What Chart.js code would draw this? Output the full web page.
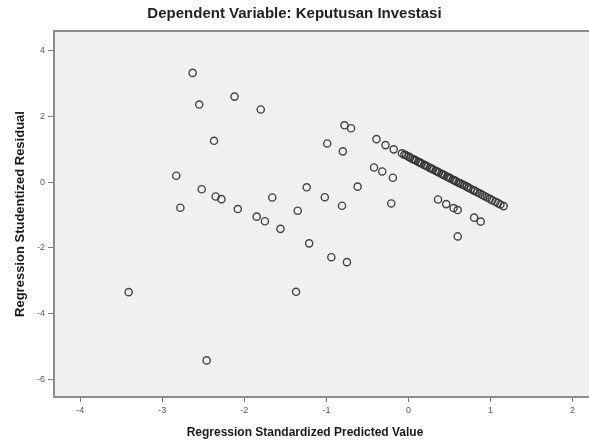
<!DOCTYPE html>
<html>
<head>
<meta charset="utf-8">
<script src="https://cdn.jsdelivr.net/npm/chart.js@4.4.1/dist/chart.umd.min.js"></script>
<style>
  html, body { margin: 0; padding: 0; background: #fff; overflow: hidden; }
  #wrap { width: 589px; height: 441px; }
</style>
</head>
<body>
<div id="wrap"><canvas id="residChart" width="589" height="441"></canvas></div>
<script>
// Regression Standardized Predicted Value (x) vs Studentized Residual (y)
const predicted = [
    -3.41, -2.46, -1.37, -2.63, -2.55, -2.12, -1.80, -2.37, -2.83, -2.78,
    -2.52, -2.35, -2.28, -2.08, -1.85, -1.75, -1.66, -1.56, -1.24, -1.35,
    -1.21, -0.94, -0.75, -1.02, -0.81, -0.99, -0.80, -0.78, -0.70, -0.62,
    -0.42, -0.32, -0.19, -0.21, 0.36, 0.46, 0.55, 0.60, 0.80, 0.88, 0.60,
    // tight diagonal band
    -0.39, -0.28, -0.18, -0.08, -0.05, -0.03, 0.00, 0.02, 0.05, 0.07, 0.09,
    0.12, 0.14, 0.16, 0.19, 0.21, 0.23, 0.26, 0.28, 0.30, 0.33, 0.35, 0.37,
    0.40, 0.42, 0.44, 0.47, 0.49, 0.51, 0.54, 0.56, 0.58, 0.61, 0.63, 0.66,
    0.68, 0.71, 0.73, 0.76, 0.79, 0.81, 0.84, 0.87, 0.90, 0.93, 0.96, 0.99,
    1.02, 1.06, 1.09, 1.12, 1.16
];
const residual = [
    -3.34, -5.41, -3.33, 3.31, 2.35, 2.59, 2.20, 1.25, 0.19, -0.78,
    -0.22, -0.44, -0.52, -0.82, -1.05, -1.19, -0.47, -1.42, -0.16, -0.87,
    -1.86, -2.28, -2.43, -0.46, -0.72, 1.17, 0.93, 1.72, 1.63, -0.14,
    0.44, 0.32, 0.13, -0.65, -0.53, -0.67, -0.79, -0.85, -1.08, -1.20, -1.65,
    1.30, 1.12, 0.99, 0.87, 0.83, 0.81, 0.77, 0.74, 0.70, 0.68, 0.65,
    0.61, 0.59, 0.56, 0.52, 0.50, 0.47, 0.43, 0.41, 0.38, 0.34, 0.32, 0.29,
    0.25, 0.23, 0.20, 0.16, 0.14, 0.11, 0.07, 0.05, 0.02, -0.02, -0.04, -0.08,
    -0.10, -0.14, -0.17, -0.21, -0.25, -0.27, -0.31, -0.35, -0.39, -0.43, -0.47, -0.51,
    -0.55, -0.60, -0.64, -0.68, -0.73
];
const xTicks = [-4, -3, -2, -1, 0, 1, 2];
const yTicks = [-6, -4, -2, 0, 2, 4];

const points = predicted.map((x, i) => ({ x: x, y: residual[i] }));

// grey plot panel + top frame line, x-axis title
const panelPlugin = {
    id: 'panel',
    beforeDraw(chart) {
        const { ctx, chartArea: a } = chart;
        ctx.save();
        ctx.fillStyle = '#f0f0f0';
        ctx.fillRect(a.left, a.top, a.right - a.left, a.bottom - a.top);
        ctx.restore();
    },
    afterDraw(chart) {
        const { ctx, chartArea: a } = chart;
        ctx.save();
        ctx.strokeStyle = '#8c8c8c';
        ctx.lineWidth = 2;
        ctx.beginPath();
        ctx.moveTo(a.left, a.top);
        ctx.lineTo(a.right, a.top);
        ctx.stroke();
        ctx.fillStyle = '#1a1a1a';
        ctx.font = 'bold 12px "Liberation Sans", Arial, sans-serif';
        ctx.textAlign = 'center';
        ctx.textBaseline = 'middle';
        ctx.fillText('Regression Standardized Predicted Value', 305, 433);
        ctx.restore();
    }
};

const ctx = document.getElementById('residChart').getContext('2d');
const chartInstance = new Chart(ctx, {
    type: 'scatter',
    data: {
        datasets: [{
            label: 'Residual',
            data: points,
            pointStyle: 'circle',
            pointRadius: 3.6,
            pointBorderWidth: 1.4,
            borderColor: 'rgba(50, 50, 50, 0.9)',
            backgroundColor: 'rgba(0, 0, 0, 0)',
            pointHoverRadius: 3.6
        }]
    },
    options: {
        responsive: false,
        animation: false,
        devicePixelRatio: 1,
        layout: { autoPadding: false, padding: { left: 0, right: 0, top: 0, bottom: 0 } },
        plugins: {
            legend: { display: false },
            tooltip: { enabled: false },
            title: {
                display: true,
                text: 'Dependent Variable: Keputusan Investasi',
                color: '#222',
                font: { family: '"Liberation Sans", Arial, sans-serif', size: 15, weight: 'bold' },
                padding: { top: 5, bottom: 8 }
            }
        },
        scales: {
            x: {
                type: 'linear',
                min: -4.32,
                max: 2.2,
                afterBuildTicks: scale => { scale.ticks = xTicks.map(v => ({ value: v })); },
                afterFit: scale => { scale.height = 44; },
                grid: { drawOnChartArea: false, tickLength: 5, color: '#777', lineWidth: 1 },
                border: { display: true, color: '#8c8c8c', width: 2 },
                ticks: {
                    color: '#555',
                    padding: 3,
                    font: { family: '"Liberation Sans", Arial, sans-serif', size: 9 }
                }
            },
            y: {
                type: 'linear',
                min: -6.52,
                max: 4.58,
                afterBuildTicks: scale => { scale.ticks = yTicks.map(v => ({ value: v })); },
                afterFit: scale => { scale.width = 54; },
                grid: { drawOnChartArea: false, tickLength: 6, color: '#777', lineWidth: 1 },
                border: { display: true, color: '#8c8c8c', width: 2 },
                ticks: {
                    color: '#555',
                    padding: 3,
                    font: { family: '"Liberation Sans", Arial, sans-serif', size: 9 }
                },
                title: {
                    display: true,
                    text: 'Regression Studentized Residual',
                    color: '#1a1a1a',
                    font: { family: '"Liberation Sans", Arial, sans-serif', size: 13, weight: 'bold' },
                    padding: { top: 13, bottom: 0 }
                }
            }
        }
    },
    plugins: [panelPlugin]
});
</script>
</body>
</html>
